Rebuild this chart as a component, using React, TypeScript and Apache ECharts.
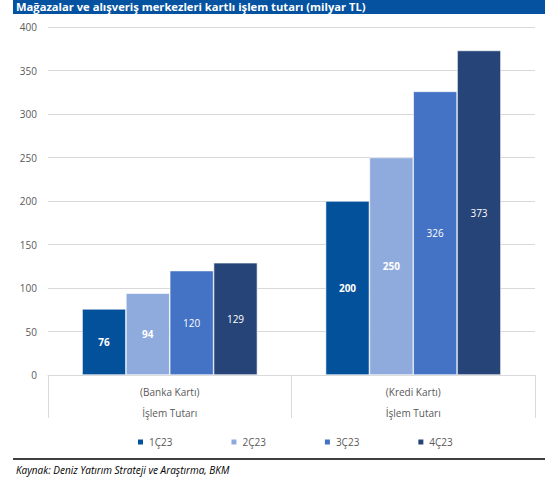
import React, { useEffect, useRef } from "react";
import * as echarts from "echarts";

const categories = ["(Banka Kartı)\nİşlem Tutarı", "(Kredi Kartı)\nİşlem Tutarı"];
const seriesNames = ["1Ç23", "2Ç23", "3Ç23", "4Ç23"];
const q1 = [76, 200];
const q2 = [94, 250];
const q3 = [120, 326];
const q4 = [129, 373];
const colors = ["#03509B", "#8FAADC", "#4472C4", "#264478"];
const boldLabels = [true, true, false, false];
const yTicks = { min: 0, max: 400, interval: 50 };

const FONT = "'Open Sans', 'Liberation Sans', sans-serif";

export default function App() {
  const ref = useRef<HTMLDivElement>(null);
  useEffect(() => {
    const chart = echarts.init(ref.current!, null, { renderer: "svg" });
    const data = [q1, q2, q3, q4];
    chart.setOption({
      animation: false,
      textStyle: { fontFamily: FONT },
      grid: { left: 48, right: 10, top: 27, bottom: 111, containLabel: false },
      legend: {
        data: seriesNames,
        top: 432,
        left: 131,
        itemWidth: 7,
        itemHeight: 7,
        itemGap: 57,
        icon: "rect",
        textStyle: { fontSize: 10, color: "#595959", fontFamily: FONT },
      },
      xAxis: {
        type: "category",
        data: categories,
        axisLine: { show: true, lineStyle: { color: "#d9d9d9" } },
        axisTick: { show: true, length: 43, lineStyle: { color: "#d9d9d9" } },
        axisLabel: {
          color: "#595959",
          fontSize: 10,
          lineHeight: 21,
          margin: 6,
          fontFamily: FONT,
        },
      },
      yAxis: {
        type: "value",
        min: yTicks.min,
        max: yTicks.max,
        interval: yTicks.interval,
        axisLine: { show: false },
        axisTick: { show: false },
        splitLine: { lineStyle: { color: "#d9d9d9" } },
        axisLabel: { color: "#595959", fontSize: 10, margin: 11, fontFamily: FONT },
      },
      series: seriesNames.map((name, i) => ({
        name,
        type: "bar",
        data: data[i],
        barGap: "0%",
        barCategoryGap: "28%",
        itemStyle: { color: colors[i], borderColor: "#ffffff", borderWidth: 0.6 },
        label: {
          show: true,
          position: "inside",
          color: "#ffffff",
          fontSize: 10,
          fontWeight: boldLabels[i] ? "bold" : "normal",
          fontFamily: FONT,
        },
      })),
      graphic: [
        {
          type: "rect",
          shape: { x: 13, y: 0, width: 532, height: 14 },
          style: { fill: "#0452A0" },
        },
        {
          type: "text",
          x: 16,
          y: 1,
          style: {
            text: "Mağazalar ve alışveriş merkezleri kartlı işlem tutarı (milyar TL)",
            fill: "#ffffff",
            font: "bold 11.2px 'Open Sans', sans-serif",
          },
        },
        {
          type: "line",
          shape: { x1: 13, y1: 459, x2: 545, y2: 459 },
          style: { stroke: "#404040", lineWidth: 2 },
        },
        {
          type: "text",
          x: 16,
          y: 465,
          style: {
            text: "Kaynak: Deniz Yatırım Strateji ve Araştırma, BKM",
            fill: "#000000",
            font: "italic 10px 'Open Sans', sans-serif",
          },
        },
      ],
    });
    return () => chart.dispose();
  }, []);
  return (
    <div
      ref={ref}
      style={{ position: "absolute", left: 0, top: 0, width: 545, height: 486, background: "#fff" }}
    />
  );
}
